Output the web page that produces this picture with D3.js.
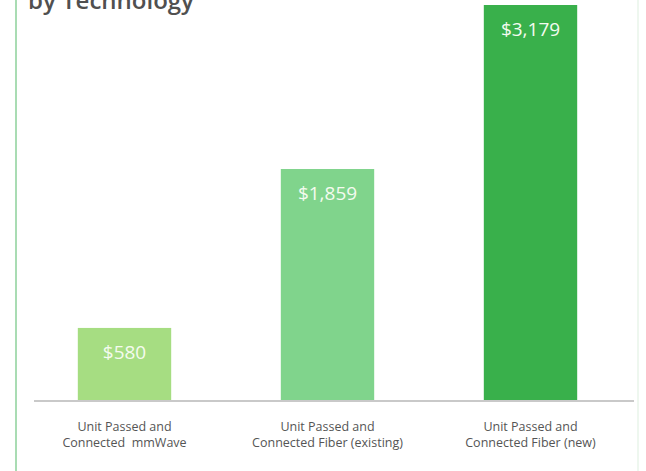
<!DOCTYPE html>
<html>
<head>
<meta charset="utf-8">
<script src="https://cdn.jsdelivr.net/npm/d3@7/dist/d3.min.js"></script>
<style>
  html, body { margin: 0; padding: 0; background: #fff; }
  svg { display: block; }
</style>
</head>
<body>
<svg id="chart" width="646" height="471"></svg>
<script>
// Cost per unit passed and connected, by technology
const categories = [
  ["Unit Passed and", "Connected  mmWave"],
  ["Unit Passed and", "Connected Fiber (existing)"],
  ["Unit Passed and", "Connected Fiber (new)"]
];
const values = [580, 1859, 3179];
const valueLabels = ["$580", "$1,859", "$3,179"];
const barColors = ["#a6dd82", "#80d48c", "#39b04b"];

const W = 646, H = 471;
const svg = d3.select("#chart");
const font = "'Open Sans', sans-serif";

// panel borders
svg.append("line").attr("x1", 16).attr("x2", 16).attr("y1", 0).attr("y2", H)
  .attr("stroke", "#a9dcb3").attr("stroke-width", 2);
svg.append("line").attr("x1", 638).attr("x2", 638).attr("y1", 0).attr("y2", H)
  .attr("stroke", "#e8f5ea").attr("stroke-width", 1.5);

// heading, second line (runs off the top edge of the panel)
svg.append("text").attr("x", 28).attr("y", 9)
  .attr("font-family", font).attr("font-size", 24).attr("font-weight", 600)
  .attr("fill", "#505050").text("by Technology");

const baseY = 400;
const x = d3.scaleBand().domain(d3.range(values.length))
  .range([23, 632]).paddingInner(0.54).paddingOuter(0.27);
const y = d3.scaleLinear().domain([0, 3179]).range([baseY, 5]);

svg.selectAll("rect.bar").data(values).join("rect")
  .attr("class", "bar")
  .attr("x", (d, i) => x(i))
  .attr("width", x.bandwidth())
  .attr("y", d => y(d))
  .attr("height", d => baseY - y(d))
  .attr("fill", (d, i) => barColors[i]);

svg.selectAll("text.val").data(values).join("text")
  .attr("class", "val")
  .attr("x", (d, i) => x(i) + x.bandwidth() / 2)
  .attr("y", d => y(d) + 31)
  .attr("text-anchor", "middle")
  .attr("font-family", font).attr("font-size", 19)
  .attr("fill", "#f4fbef")
  .text((d, i) => valueLabels[i]);

// baseline
svg.append("line").attr("x1", 34).attr("x2", 634).attr("y1", baseY + 1).attr("y2", baseY + 1)
  .attr("stroke", "#c9c9c9").attr("stroke-width", 2);

// category labels
const cat = svg.selectAll("text.cat").data(categories).join("text")
  .attr("class", "cat")
  .attr("text-anchor", "middle")
  .attr("font-family", font).attr("font-size", 12.5)
  .attr("fill", "#555");
cat.each(function(lines, i) {
  const t = d3.select(this);
  lines.forEach((ln, j) => {
    t.append("tspan")
      .attr("x", x(i) + x.bandwidth() / 2)
      .attr("y", 431 + j * 16)
      .attr("xml:space", "preserve")
      .style("white-space", "pre")
      .text(ln);
  });
});
</script>
</body>
</html>
